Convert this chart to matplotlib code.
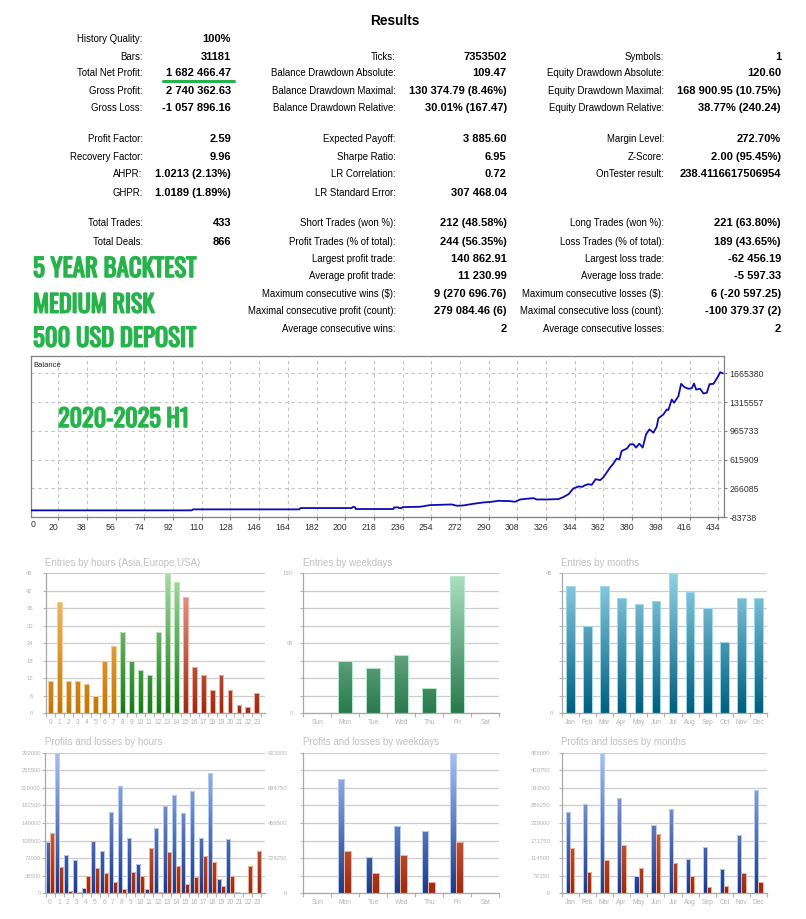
import numpy as np
import matplotlib
matplotlib.use("Agg")
import matplotlib.pyplot as plt
from matplotlib import font_manager as fm
from matplotlib import patheffects as pe
from matplotlib.colors import LinearSegmentedColormap
from matplotlib.transforms import ScaledTranslation

# ---------------- DATA ----------------
title_text = "Results"
col1 = [(0, "History Quality:", "100%"), (1, "Bars:", "31181"), (2, "Total Net Profit:", "1 682 466.47"),
        (3, "Gross Profit:", "2 740 362.63"), (4, "Gross Loss:", "-1 057 896.16"),
        (5, "Profit Factor:", "2.59"), (6, "Recovery Factor:", "9.96"), (7, "AHPR:", "1.0213 (2.13%)"),
        (8, "GHPR:", "1.0189 (1.89%)"), (9, "Total Trades:", "433"), (10, "Total Deals:", "866")]
col2 = [(1, "Ticks:", "7353502"), (2, "Balance Drawdown Absolute:", "109.47"),
        (3, "Balance Drawdown Maximal:", "130 374.79 (8.46%)"), (4, "Balance Drawdown Relative:", "30.01% (167.47)"),
        (5, "Expected Payoff:", "3 885.60"), (6, "Sharpe Ratio:", "6.95"), (7, "LR Correlation:", "0.72"),
        (8, "LR Standard Error:", "307 468.04"), (9, "Short Trades (won %):", "212 (48.58%)"),
        (10, "Profit Trades (% of total):", "244 (56.35%)"), (11, "Largest profit trade:", "140 862.91"),
        (12, "Average profit trade:", "11 230.99"), (13, "Maximum consecutive wins ($):", "9 (270 696.76)"),
        (14, "Maximal consecutive profit (count):", "279 084.46 (6)"), (15, "Average consecutive wins:", "2")]
col3 = [(1, "Symbols:", "1"), (2, "Equity Drawdown Absolute:", "120.60"),
        (3, "Equity Drawdown Maximal:", "168 900.95 (10.75%)"), (4, "Equity Drawdown Relative:", "38.77% (240.24)"),
        (5, "Margin Level:", "272.70%"), (6, "Z-Score:", "2.00 (95.45%)"), (7, "OnTester result:", "238.4116617506954"),
        (9, "Long Trades (won %):", "221 (63.80%)"), (10, "Loss Trades (% of total):", "189 (43.65%)"),
        (11, "Largest loss trade:", "-62 456.19"), (12, "Average loss trade:", "-5 597.33"),
        (13, "Maximum consecutive losses ($):", "6 (-20 597.25)"),
        (14, "Maximal consecutive loss (count):", "-100 379.37 (2)"), (15, "Average consecutive losses:", "2")]
promo_lines = ["5 YEAR BACKTEST", "MEDIUM RISK", "500 USD DEPOSIT"]
period_text = "2020-2025 H1"

bal_trade = [2.7, 103.7, 104.5, 171.2, 172, 204.1, 204.6, 206.1, 206.6, 230.2, 230.7, 233.3, 233.8, 235.4, 236,
             246.9, 253.2, 266.8, 270.0, 274.1, 280.4, 286.6, 291.9, 296.1, 303.4, 306.5, 309.7, 318.0, 320.1,
             326.4, 333.7, 336.8, 340.1, 343.1, 346.3, 348.8, 350.4, 352.5, 354.6, 357.1, 359.9, 362.0, 364.0,
             366.1, 368.2, 370.3, 372.0, 373.4, 376.6, 378.7, 380.8, 382.4, 384.5, 386.6, 388.7, 390.8, 393.3,
             395.4, 396.4, 399.6, 401.7, 402.7, 404.8, 406.3, 407.9, 409.0, 410.7, 412.8, 415.3, 417.4, 418.8,
             420.1, 422.6, 424.7, 426.8, 428.5, 431.0, 433.7, 435.2, 436.8]
bal_value = [500, 500, 12600, 12600, 28700, 28700, 40900, 40900, 16600, 16600, 36800, 36800, 28700, 28700, 40000,
             44000, 64300, 72400, 56300, 60300, 80500, 96600, 104700, 116800, 112800, 104700, 132900, 149100,
             132900, 132900, 137000, 161200, 197500, 266100, 290300, 286300, 306400, 318500, 310500, 379100,
             367000, 403300, 459800, 520300, 568700, 629200, 621200, 722000, 750300, 802700, 802700, 762400,
             810800, 762400, 923800, 984300, 943900, 1016600, 1117500, 1165900, 1226400, 1218400, 1347500,
             1307200, 1355600, 1387800, 1537100, 1496800, 1476600, 1484700, 1541200, 1468500, 1476600, 1420100,
             1428200, 1533100, 1537100, 1621900, 1678300, 1665380]
bal_yticks = [-83738, 266085, 615909, 965733, 1315557, 1665380]
bal_xticks = [20, 38, 56, 74, 92, 110, 128, 146, 164, 182, 200, 218, 236, 254, 272, 290, 308, 326, 344,
              362, 380, 398, 416, 434]

hours = list(range(24))
hour_session = ["Asia"] * 8 + ["Europe"] * 7 + ["USA"] * 9
entries_hours = [11, 38, 11, 11, 10, 6, 18, 23, 28, 18, 15, 13, 28, 48, 45, 40, 16, 13, 8, 13, 8, 3, 2, 7]
weekdays = ["Sun", "Mon", "Tue", "Wed", "Thu", "Fri", "Sat"]
entries_weekdays = [0, 71, 62, 79, 34, 187, 0]
months = ["Jan", "Feb", "Mar", "Apr", "May", "Jun", "Jul", "Aug", "Sep", "Oct", "Nov", "Dec"]
entries_months = [41, 28, 41, 37, 35, 36, 45, 39, 34, 23, 37, 37]

profit_hours = [105900, 292000, 79600, 69200, 10400, 108600, 87900, 169500, 223500, 114200, 60900, 9000,
                134900, 181300, 203400, 167500, 213100, 115600, 249100, 29800, 112100, 2000, 700, 1000]
loss_hours = [124600, 55400, 4800, 2000, 36000, 51900, 41500, 23500, 9700, 43600, 36000, 93400,
              3500, 85800, 56100, 18700, 33900, 76800, 65700, 15200, 35300, 0, 56100, 87200]
profit_weekdays = [0, 744200, 238000, 439200, 406700, 913000, 0]
loss_weekdays = [0, 276900, 129800, 251000, 71400, 333200, 0]
profit_months = [263700, 290900, 458000, 310400, 56400, 221400, 273500, 112900, 151900, 79200, 191000, 335400]
loss_months = [147600, 70500, 108500, 156300, 82500, 192100, 97700, 56400, 20600, 22800, 65100, 38000]

# ---------------- FONTS ----------------
avail = {f.name for f in fm.fontManager.ttflist}
def pick(*names):
    for n in names:
        if n in avail:
            return n
    return "DejaVu Sans"
SANS = pick("Liberation Sans", "Arial", "DejaVu Sans")
NARROW = pick("Oswald", "Bebas Neue", "Roboto Condensed", "Liberation Sans Narrow", "Open Sans Condensed",
              "Liberation Sans")
plt.rcParams["font.family"] = [SANS, "DejaVu Sans"]

W, H = 806, 919
fig = plt.figure(figsize=(W / 100, H / 100), dpi=100)
fig.patch.set_facecolor("white")

def rect(l, t, r, b):
    return [l / W, 1 - b / H, (r - l) / W, (b - t) / H]

GREEN = "#26b34b"
LBL = "#b4b4b4"

# ---------------- BALANCE CHART ----------------
bx = fig.add_axes(rect(30.7, 356, 724, 517.3))
bx.plot(bal_trade, bal_value, color="#0c0cb4", lw=1.3, zorder=3)
bx.set_xlim(2.7, 437.6)
bx.set_ylim(-83738, 1875274)
bx.set_yticks(bal_yticks)
bx.set_yticklabels([str(v) for v in bal_yticks])
bx.yaxis.tick_right()
bx.set_xticks(bal_xticks)
bx.set_xticklabels([str(v) for v in bal_xticks])
bx.tick_params(axis="both", labelsize=6.3, labelcolor="#303030", color="#808080", length=2.5, width=0.8, pad=1.5)
for s in bx.spines.values():
    s.set_color("#808080")
    s.set_linewidth(0.9)
bx.grid(True, color="#c4c4c4", lw=0.8, linestyle=(0, (3, 3)))
off = ScaledTranslation(-5 / 100, 0, fig.dpi_scale_trans)
for lbl in bx.get_xticklabels():
    lbl.set_transform(lbl.get_transform() + off)
bx.text(4.0, -0.043, "0", transform=bx.get_xaxis_transform(), ha="center", va="center",
        fontsize=6.3, color="#303030")
bx.text(0.004, 0.965, "Balance", transform=bx.transAxes, ha="left", va="top", fontsize=5.5, color="#202020")

# ---------------- SMALL BAR CHARTS ----------------
def grad_bars(ax, xs, hs, width, c_bottom, c_top, edge, ymax):
    bars = ax.bar(xs, hs, width, color="none", edgecolor=edge, linewidth=0.7, zorder=3)
    cmap = LinearSegmentedColormap.from_list("g", [c_bottom, c_top])
    for b in bars:
        x0, w, h = b.get_x(), b.get_width(), b.get_height()
        if h <= 0:
            continue
        grad = np.linspace(0, h / ymax, 64).reshape(-1, 1)
        im = ax.imshow(grad, extent=[x0, x0 + w, 0, h], origin="lower", aspect="auto", cmap=cmap,
                       vmin=0, vmax=1, zorder=2, interpolation="bilinear")
        im.set_clip_path(b)
    return bars

def style(ax, n, xlabels, ymax, ylabels, ypad, xlim):
    ax.set_xlim(*xlim)
    ax.set_ylim(0, ymax)
    ax.set_aspect("auto")
    for s in ["top", "right"]:
        ax.spines[s].set_visible(False)
    for s in ["left", "bottom"]:
        ax.spines[s].set_color("#a8a8a8")
        ax.spines[s].set_linewidth(0.9)
    yt = np.linspace(0, ymax, len(ylabels))
    ax.set_yticks(yt)
    ax.set_yticklabels(ylabels)
    ax.yaxis.grid(True, color="#cccccc", lw=0.9)
    ax.set_axisbelow(True)
    ax.tick_params(axis="y", length=2.5, color="#b4b4b4", labelsize=4.2, labelcolor=LBL, pad=ypad)
    ax.set_xticks(range(n))
    ax.set_xticklabels(xlabels)
    ax.set_xticks(np.arange(n + 1) - 0.5, minor=True)
    ax.tick_params(axis="x", which="major", length=0, labelsize=4.8, labelcolor=LBL, pad=4)
    ax.tick_params(axis="x", which="minor", length=3, color="#b4b4b4", width=0.8)

session_colors = {"Asia": ("#c27608", "#f8c878", "#f6cf95"),
                  "Europe": ("#17791b", "#a8dca2", "#b6e6b2"),
                  "USA": ("#9e2a10", "#f2a290", "#f2b2a4")}

# Entries by hours
a1 = fig.add_axes(rect(46, 573.3, 265, 713.3))
for sess in ["Asia", "Europe", "USA"]:
    idx = [i for i in hours if hour_session[i] == sess]
    cb, ct, ce = session_colors[sess]
    grad_bars(a1, idx, [entries_hours[i] for i in idx], 0.55, cb, ct, ce, 48)
style(a1, 24, [str(h) for h in hours], 48, [str(v) for v in range(0, 49, 6)], 7, (-0.45, 23.9))

# Entries by weekdays
a2 = fig.add_axes(rect(303.3, 573.3, 499.3, 713.3))
grad_bars(a2, range(7), entries_weekdays, 0.5, "#2a7a4c", "#aee0c4", "#b4e8cc", 190)
style(a2, 7, weekdays, 190, ["0", "", "", "", "95", "", "", "", "190"], 5, (-0.5, 6.5))

# Entries by months
a3 = fig.add_axes(rect(561.7, 573.3, 767.3, 713.3))
grad_bars(a3, range(12), entries_months, 0.5, "#005e7e", "#92d2e6", "#9edbee", 45)
style(a3, 12, months, 45, ["0", "", "", "", "", "", "", "", "45"], 4, (-0.5, 11.5))

BLUE = ("#1b3a8a", "#a9c1f0", "#b8cdf5")
RED = ("#9c2a10", "#f2a080", "#f3b29a")

# Profits and losses by hours
b1 = fig.add_axes(rect(45, 752.7, 265, 893.3))
hx = np.arange(24)
grad_bars(b1, hx - 0.225, profit_hours, 0.45, *BLUE, 292000)
grad_bars(b1, hx + 0.225, loss_hours, 0.45, *RED, 292000)
style(b1, 24, [str(h) for h in hours], 292000, [str(int(v)) for v in np.linspace(0, 292000, 9)], 0.5,
      (-0.56, 23.9))

# Profits and losses by weekdays
b2 = fig.add_axes(rect(303.3, 752.7, 499.3, 893.3))
wx = np.arange(7)
grad_bars(b2, wx - 0.16, profit_weekdays, 0.23, *BLUE, 913000)
grad_bars(b2, wx + 0.08, loss_weekdays, 0.23, *RED, 913000)
style(b2, 7, weekdays, 913000, [str(int(v)) for v in np.linspace(0, 913000, 5)], 9, (-0.5, 6.5))
b2.set_yticks(np.linspace(0, 913000, 9), minor=True)
b2.yaxis.grid(True, which="minor", color="#cccccc", lw=0.9)
b2.tick_params(axis="y", which="minor", length=2.5, color="#b4b4b4")

# Profits and losses by months
b3 = fig.add_axes(rect(561.7, 752.7, 767.3, 893.3))
mx = np.arange(12)
grad_bars(b3, mx - 0.14, profit_months, 0.25, *BLUE, 458000)
grad_bars(b3, mx + 0.11, loss_months, 0.25, *RED, 458000)
style(b3, 12, months, 458000, [str(int(v)) for v in np.linspace(0, 458000, 9)], 6, (-0.5, 11.5))

# ---------------- OVERLAY TEXT ----------------
ov = fig.add_axes([0, 0, 1, 1])
ov.set_xlim(0, W)
ov.set_ylim(H, 0)
ov.axis("off")
ov.patch.set_visible(False)

ov.text(394.7, 20.7, title_text, ha="center", va="center", fontsize=9.8, fontweight="bold", color="#000000")
row_y = [39, 56.7, 73.3, 90.7, 108.3, 139.3, 157.3, 174.3, 193.3, 223.3, 241.7, 259, 276, 293.7, 310.7, 328.7]
LS, VS = 6.9, 8.0
for col, lx, vx in [(col1, 142.7, 231), (col2, 395.7, 506.7), (col3, 664, 781)]:
    for r, lab, val in col:
        ov.text(lx, row_y[r], lab, ha="right", va="center", fontsize=LS, color="#000000")
        ov.text(vx, row_y[r], val, ha="right", va="center", fontsize=VS, fontweight="bold", color="#000000")
ov.plot([163, 234], [80.5, 80.5], color=GREEN, lw=2.2, solid_capstyle="round")

renderer = fig.canvas.get_renderer()
stroke = [pe.withStroke(linewidth=1.1, foreground=GREEN)]
def fit_text(x, y, s, target_w, size):
    t = ov.text(x, y, s, ha="left", va="baseline", fontsize=size, color=GREEN,
                family=[NARROW, "DejaVu Sans"], fontweight="bold", path_effects=stroke)
    w = t.get_window_extent(renderer).width
    t.set_fontsize(size * (target_w - 1) / w)
    return t

fit_text(33, 277, promo_lines[0], 164, 20)
fit_text(33, 312.7, promo_lines[1], 122, 20)
fit_text(33, 346.7, promo_lines[2], 164, 20)
fit_text(58, 427, period_text, 132, 20)

chart_titles = [(45, 563.3, "Entries by hours (Asia,Europe,USA)"), (302.7, 563.3, "Entries by weekdays"),
                (560.7, 563.3, "Entries by months"), (45, 742.3, "Profits and losses by hours"),
                (302.7, 742.3, "Profits and losses by weekdays"), (560.7, 742.3, "Profits and losses by months")]
for x, y, s in chart_titles:
    ov.text(x, y, s, ha="left", va="center", fontsize=7, color="#c0c0c0")

fig.savefig("out.png", dpi=100, facecolor="white")
